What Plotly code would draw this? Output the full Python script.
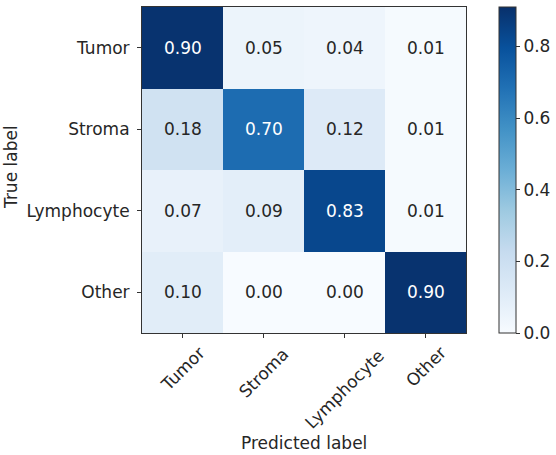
import plotly.graph_objects as go

classes = ["Tumor", "Stroma", "Lymphocyte", "Other"]
cm = [
    [0.90, 0.05, 0.04, 0.01],
    [0.18, 0.70, 0.12, 0.01],
    [0.07, 0.09, 0.83, 0.01],
    [0.10, 0.00, 0.00, 0.90],
]
cbar_ticks = [0.0, 0.2, 0.4, 0.6, 0.8]

FONT = "DejaVu Sans"
FS = 17
TXT = "#262626"
W, H = 556, 455
L, R, T, B = 142, 90, 7, 122
pw = W - L - R
ph = H - T - B

zmax = 0.91
thresh = max(max(r) for r in cm) / 2.0

fig = go.Figure(go.Heatmap(
    z=cm, x=classes, y=classes,
    colorscale="Blues", zmin=0, zmax=zmax,
    xgap=0, ygap=0, hoverinfo="skip",
    colorbar=dict(
        thickness=17, len=1, lenmode="fraction",
        x=1 + (499 - (L + pw)) / pw, xanchor="left", xpad=0, ypad=0,
        y=0.5, yanchor="middle",
        outlinewidth=1, outlinecolor="#333",
        tickvals=cbar_ticks, ticktext=[f"{v:.1f}" for v in cbar_ticks],
        ticks="outside", ticklen=4, tickcolor="#333",
        tickfont=dict(family=FONT, size=FS, color=TXT),
    ),
))

annotations = []
for i, row in enumerate(cm):
    for j, v in enumerate(row):
        annotations.append(dict(
            x=classes[j], y=classes[i], text=f"{v:.2f}", showarrow=False,
            font=dict(family=FONT, size=FS, color="white" if v > thresh else TXT),
        ))

# rotated x tick labels centered under ticks (matplotlib style)
label_centers = {"Tumor": 369, "Stroma": 373, "Lymphocyte": 389, "Other": 367}
bottom = T + ph
for c in classes:
    annotations.append(dict(
        x=c, xref="x", y=0, yref="paper", yanchor="middle",
        yshift=-(label_centers[c] - bottom), text=c, textangle=-45,
        showarrow=False, font=dict(family=FONT, size=FS, color=TXT),
    ))

annotations.append(dict(
    x=0.5, xref="paper", y=0, yref="paper",
    yshift=-(443 - bottom), yanchor="middle", text="Predicted label",
    showarrow=False, font=dict(family=FONT, size=FS, color=TXT),
))
annotations.append(dict(
    x=0, xref="paper", xshift=-(L - 11), xanchor="center",
    y=0.5 + (ph / 2 + T - 167) / ph, yref="paper", yanchor="middle",
    text="True label", textangle=-90,
    showarrow=False, font=dict(family=FONT, size=FS, color=TXT),
))

fig.update_layout(
    width=W, height=H,
    margin=dict(l=L, r=R, t=T, b=B, autoexpand=False),
    paper_bgcolor="white", plot_bgcolor="white",
    annotations=annotations,
    font=dict(family=FONT, size=FS, color=TXT),
)
fig.update_xaxes(
    showticklabels=False, ticks="outside", ticklen=4, tickcolor="#333",
    showline=True, linecolor="#333", linewidth=1, mirror=True,
    showgrid=False, zeroline=False,
)
fig.update_yaxes(
    autorange="reversed", ticks="outside", ticklen=4, tickcolor="#333",
    ticklabelstandoff=4, tickfont=dict(family=FONT, size=FS, color=TXT),
    showline=True, linecolor="#333", linewidth=1, mirror=True,
    showgrid=False, zeroline=False,
)

fig.write_html(
    "out.html",
    config={"displayModeBar": False, "staticPlot": True},
    post_script="document.body.style.margin='0';document.body.style.overflow='hidden';",
)
